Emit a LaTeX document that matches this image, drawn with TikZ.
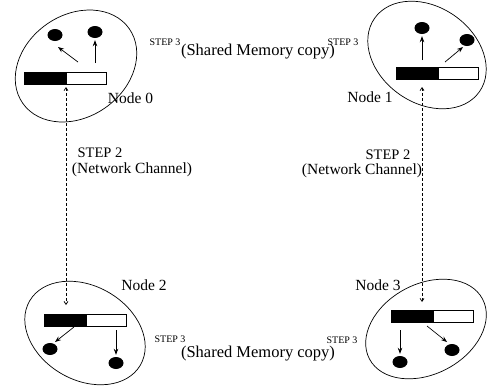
\documentclass[tikz,border=0pt]{standalone}
\usepackage{fontspec}
\setmainfont{Liberation Serif}
\usetikzlibrary{shapes.geometric,arrows.meta}
\tikzset{
  cluster/.style={draw, ellipse, inner sep=0pt, line width=0.7pt},
  dot/.style={ellipse, fill=black, inner sep=0pt, minimum width=15pt, minimum height=12pt},
  blackbar/.style={draw, fill=black, inner sep=0pt, minimum width=41pt, minimum height=12pt, line width=0.7pt},
  whitebar/.style={draw, fill=white, inner sep=0pt, minimum width=40pt, minimum height=12pt, line width=0.7pt},
  arr/.style={line width=0.7pt, -{Stealth[length=6pt,width=4.5pt]}, shorten >=2pt},
  dasharr/.style={line width=0.7pt, dash pattern=on 3pt off 2pt, {Straight Barb[length=3pt,width=4pt]}-{Straight Barb[length=3pt,width=4pt]}},
  bigtxt/.style={inner sep=0pt, font=\fontsize{15.5}{18}\selectfont},
  sharedtxt/.style={inner sep=0pt, font=\fontsize{16.5}{19}\selectfont},
  steptxt/.style={inner sep=0pt, font=\fontsize{14.5}{17}\selectfont},
  smalltxt/.style={inner sep=0pt, font=\fontsize{10}{12}\selectfont}
}
\begin{document}
\begin{tikzpicture}[x=1pt, y=-1pt]
\useasboundingbox (0,0) rectangle (487,391);
% clusters
\node[cluster, minimum width=130pt, minimum height=102pt, rotate=35] (n0) at (76,66) {};
\node[cluster, minimum width=128pt, minimum height=96pt, rotate=-35] (n1) at (427,55) {};
\node[cluster, minimum width=128pt, minimum height=94pt, rotate=-30] (n2) at (85,333) {};
\node[cluster, minimum width=128pt, minimum height=90pt, rotate=28] (n3) at (426,329) {};
% bars
\node[blackbar, anchor=east] (k0) at (66,78) {};
\node[whitebar, anchor=west] (w0) at (66,78) {};
\node[blackbar, anchor=east] (k1) at (438,73.5) {};
\node[whitebar, anchor=west] (w1) at (438,73.5) {};
\node[blackbar, anchor=east] (k2) at (86,320.5) {};
\node[whitebar, anchor=west] (w2) at (86,320.5) {};
\node[blackbar, anchor=east] (k3) at (433,316) {};
\node[whitebar, anchor=west] (w3) at (433,316) {};
% dots
\node[dot] (d00) at (55,35) {};
\node[dot] (d01) at (95,32) {};
\node[dot] (d10) at (422,28) {};
\node[dot] (d11) at (467,40) {};
\node[dot] (d20) at (50,349) {};
\node[dot] (d21) at (116,363) {};
\node[dot] (d30) at (400,362) {};
\node[dot] (d31) at (452,350) {};
% arrow starts
\coordinate (s00) at (78,62);
\coordinate (s01) at (95,63);
\coordinate (s10) at (422,60);
\coordinate (s11) at (445,62);
\coordinate (s20) at (74,327);
\coordinate (s21) at (116,330);
\coordinate (s30) at (400,330);
\coordinate (s31) at (427,326);
\coordinate (e00) at (58,47);
\coordinate (e11) at (463,47);
\coordinate (e20) at (55,342);
\coordinate (e31) at (447,342);
\draw[arr, shorten >=0pt] (s00) -- (e00);
\draw[arr] (s01) -- (d01);
\draw[arr] (s10) -- (d10);
\draw[arr, shorten >=0pt] (s11) -- (e11);
\draw[arr, shorten >=0pt] (s20) -- (e20);
\draw[arr] (s21) -- (d21);
\draw[arr] (s30) -- (d30);
\draw[arr, shorten >=0pt] (s31) -- (e31);
% network channels
\coordinate (t0) at (66,87);
\coordinate (t2) at (66,305);
\coordinate (t1) at (422,87);
\coordinate (t3) at (422,302);
\draw[dasharr] (t0) -- (t2);
\draw[dasharr] (t1) -- (t3);
% labels
\node[bigtxt] (l0) at (130.5,98) {Node 0};
\node[bigtxt] (l1) at (370,97) {Node 1};
\node[bigtxt] (l2) at (144,285) {Node 2};
\node[bigtxt] (l3) at (378,285) {Node 3};
\node[steptxt] (s2a) at (100,153) {STEP 2};
\node[bigtxt] (nca) at (132,170) {(Network Channel)};
\node[steptxt] (s2b) at (388,155) {STEP 2};
\node[bigtxt] (ncb) at (362,171) {(Network Channel)};
\node[smalltxt] (s3a) at (165,42) {STEP 3};
\node[smalltxt] (s3b) at (343,42) {STEP 3};
\node[sharedtxt] (sm0) at (258,52) {(Shared Memory copy)};
\node[smalltxt] (s3c) at (170,339) {STEP 3};
\node[smalltxt] (s3d) at (342,340) {STEP 3};
\node[sharedtxt] (sm1) at (258,354) {(Shared Memory copy)};
\end{tikzpicture}
\end{document}
